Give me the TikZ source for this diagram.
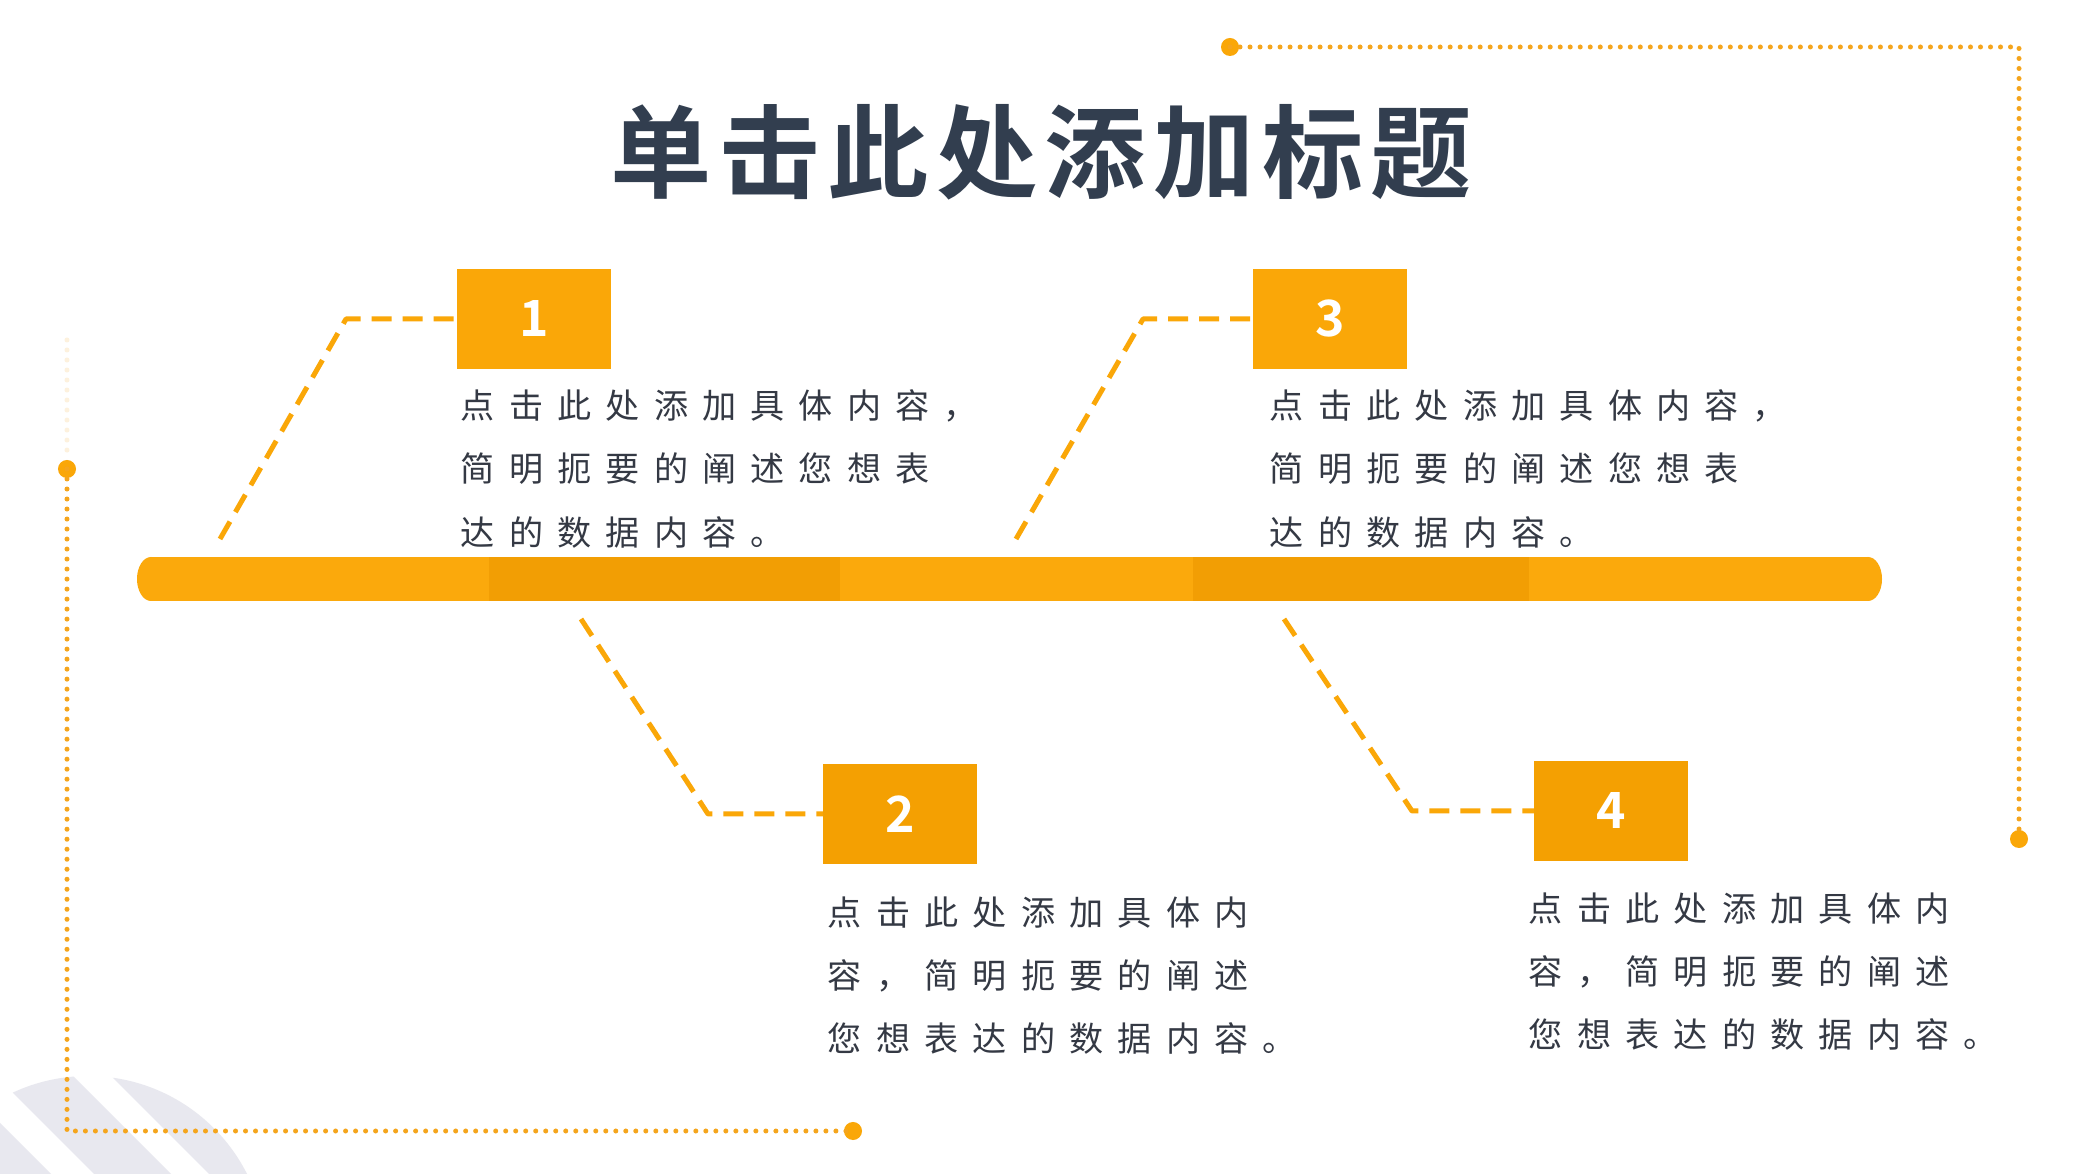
\documentclass[tikz,border=0pt]{standalone}
\usepackage{fontspec}
\newfontfamily\cjk{Noto Sans CJK SC}
\newfontfamily\cjkb{Noto Sans CJK SC Bold}
\definecolor{barc}{HTML}{FBA90C}
\definecolor{bardark}{HTML}{F29E04}
\definecolor{boxa}{HTML}{FAA708}
\definecolor{boxb}{HTML}{F4A002}
\definecolor{dotc}{HTML}{F5A51C}
\definecolor{titlec}{HTML}{323E4F}
\definecolor{textc}{HTML}{343944}
\definecolor{stripec}{HTML}{E8E8EF}
\makeatletter
\newcommand\spc[2]{\@tfor\spcch:=#2\do{\makebox[#1][l]{\spcch}}}
\makeatother
\begin{document}
\begin{tikzpicture}[x=0.01cm,y=-0.01cm,
  numbox/.style={minimum width=1.53cm,minimum height=1.0cm,inner sep=0pt,text=white,font=\cjkb\fontsize{14.2pt}{16pt}\selectfont},
  body/.style={anchor=west,inner sep=0pt,text=textc,font=\cjk\fontsize{9.7pt}{12pt}\selectfont},
  conn/.style={draw=boxa,line width=0.05cm,dash pattern=on 0.2cm off 0.11cm,line join=round},
  dotline/.style={draw=dotc,line width=0.05cm,dash pattern=on 0pt off 0.1cm,line cap=round},
  bigdot/.style={circle,fill=boxa,minimum size=0.18cm,inner sep=0pt}]
\useasboundingbox (0,0) rectangle (2088,1174);
\fill[white] (0,0) rectangle (2088,1174);

% decorative stripes bottom-left
\begin{scope}
\clip (88,1254) circle [radius=178];
\fill[stripec] (-100,1023) -- (300,1423) -- (-100,1423) -- cycle;
\fill[stripec] (-100,980) -- (300,1380) -- (300,1303) -- (-100,903) -- cycle;
\fill[stripec] (-100,865) -- (400,1365) -- (400,700) -- (-100,700) -- cycle;
\end{scope}

% dotted frames
\node[bigdot] (dA) at (1230,47) {};
\node[bigdot] (dB) at (2019,839) {};
\coordinate (cTR) at (2019,47);
\draw[dotline] (dA.center) -- (cTR) -- (dB.center);
\node[bigdot] (dC) at (67,469) {};
\node[bigdot] (dD) at (853,1131) {};
\coordinate (cBL) at (67,1131);
\coordinate (cFade) at (67,340);
\draw[dotline] (dC.center) -- (cBL) -- (dD.center);
\draw[dotline,draw opacity=0.15] (cFade) -- (dC.north);

% title
\node[anchor=west,inner sep=0pt,text=titlec,font=\cjkb\fontsize{28.8pt}{32pt}\selectfont] (title) at (610,152) {\spc{1.085cm}{单击此处添加标题}};

% bar
\fill[barc] (151,579) ellipse [x radius=14, y radius=22];
\fill[barc] (1868,579) ellipse [x radius=14, y radius=22];
\fill[barc] (151,557) rectangle (1868,601);
\fill[bardark] (489,557) rectangle (840,601);
\fill[bardark] (1193,557) rectangle (1529,601);

% boxes
\node[numbox,fill=boxa] (b1) at (534,319) {1};
\node[numbox,fill=boxa] (b3) at (1330,319) {3};
\node[numbox,fill=boxb] (b2) at (900,814) {2};
\node[numbox,fill=boxb] (b4) at (1611,811) {4};

% connectors
\coordinate (c1a) at (220,539); \coordinate (c1b) at (346,319);
\coordinate (c3a) at (1016,539); \coordinate (c3b) at (1143,319);
\coordinate (c2a) at (581,619); \coordinate (c2b) at (708,814);
\coordinate (c4a) at (1284,619); \coordinate (c4b) at (1412,811);
\draw[conn] (c1a) -- (c1b) -- (b1.west);
\draw[conn] (c3a) -- (c3b) -- (b3.west);
\draw[conn] (c2a) -- (c2b) -- (b2.west);
\draw[conn] (c4a) -- (c4b) -- (b4.west);

% texts
\node[body] (t1a) at (460,406) {\spc{0.483cm}{点击此处添加具体内容，}};
\node[body] (t1b) at (460,469) {\spc{0.483cm}{简明扼要的阐述您想表}};
\node[body] (t1c) at (460,532) {\spc{0.483cm}{达的数据内容。}};
\node[body] (t3a) at (1269,406) {\spc{0.483cm}{点击此处添加具体内容，}};
\node[body] (t3b) at (1269,469) {\spc{0.483cm}{简明扼要的阐述您想表}};
\node[body] (t3c) at (1269,532) {\spc{0.483cm}{达的数据内容。}};
\node[body] (t2a) at (827,913) {\spc{0.483cm}{点击此处添加具体内}};
\node[body] (t2b) at (827,976) {\spc{0.483cm}{容，简明扼要的阐述}};
\node[body] (t2c) at (827,1038) {\spc{0.483cm}{您想表达的数据内容。}};
\node[body] (t4a) at (1528,909) {\spc{0.483cm}{点击此处添加具体内}};
\node[body] (t4b) at (1528,972) {\spc{0.483cm}{容，简明扼要的阐述}};
\node[body] (t4c) at (1528,1034) {\spc{0.483cm}{您想表达的数据内容。}};
\end{tikzpicture}
\end{document}
